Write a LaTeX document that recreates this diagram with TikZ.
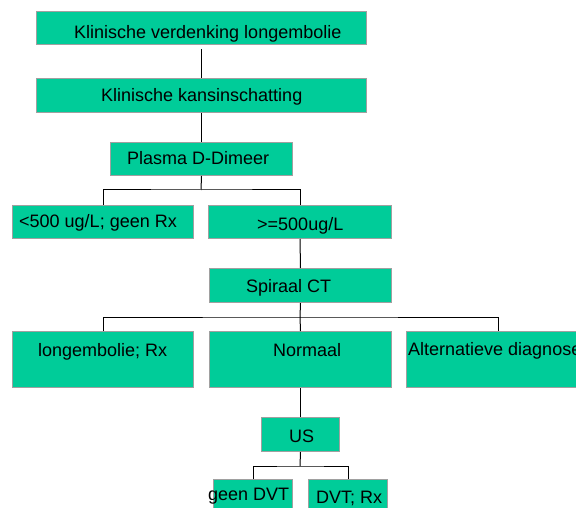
\documentclass[tikz,border=0pt]{standalone}
\usepackage{fontspec}
\setmainfont{Liberation Sans}
\definecolor{boxfill}{HTML}{00CC99}
\definecolor{boxline}{HTML}{A0A0A0}
\begin{document}
\begin{tikzpicture}[x=1pt,y=-1pt,
  box/.style={draw=boxline,line width=1pt,fill=boxfill,rectangle,inner sep=0pt,anchor=north west},
  lbl/.style={inner sep=0pt,font=\fontsize{18}{21}\selectfont,anchor=base west},
  conn/.style={draw=black,line width=1pt}]
\useasboundingbox (0,0) rectangle (576,508);
\clip (0,0) rectangle (576,508);
% boxes
\node[box,minimum width=330pt,minimum height=33pt] (b1) at (36,11) {};
\node[box,minimum width=330pt,minimum height=34pt] (b2) at (36,78) {};
\node[box,minimum width=182pt,minimum height=33pt] (b3) at (110,142) {};
\node[box,minimum width=181pt,minimum height=33pt] (b4) at (12,205) {};
\node[box,minimum width=183pt,minimum height=33pt] (b5) at (208,205) {};
\node[box,minimum width=182pt,minimum height=34pt] (b6) at (209,268) {};
\node[box,minimum width=181pt,minimum height=56pt] (b7) at (12,331) {};
\node[box,minimum width=182pt,minimum height=56pt] (b8) at (209,331) {};
\node[box,minimum width=300pt,minimum height=56pt] (b9) at (406,331) {};
\node[box,minimum width=78pt,minimum height=34pt] (b10) at (261,417) {};
\node[box,minimum width=79pt,minimum height=40pt] (b11) at (213,479) {};
\node[box,minimum width=79pt,minimum height=40pt] (b12) at (308,479) {};
% labels
\node[lbl] (t1) at (74,39) {Klinische verdenking longembolie};
\node[lbl] (t2) at (101,102) {Klinische kansinschatting};
\node[lbl] (t3) at (127,165) {Plasma D-Dimeer};
\node[lbl] (t4) at (19,227) {<500 ug/L; geen Rx};
\node[lbl] (t5) at (257,230) {>=500ug/L};
\node[lbl] (t6) at (246,292) {Spiraal CT};
\node[lbl] (t7) at (38,356) {longembolie; Rx};
\node[lbl] (t8) at (273,356) {Normaal};
\node[lbl] (t9) at (408,355) {Alternatieve diagnose};
\node[lbl] (t10) at (289,442) {US};
\node[lbl] (t11) at (208,500) {geen DVT};
\node[lbl] (t12) at (316,503) {DVT; Rx};
% connectors
\coordinate (j1) at (201,190);
\coordinate (j2) at (300,317);
\coordinate (c9) at (498,331);
\coordinate (j3) at (300,466);
\draw[conn] ([yshift=-4pt]b1.south) -- (b2.north);
\draw[conn] (b2.south) -- (b3.north);
\draw[conn] (b3.south) -- (j1);
\draw[conn] (b4.north) |- (j1) -| (b5.north);
\draw[conn] (b5.south) -- (b6.north);
\draw[conn] (b6.south) -- (j2);
\draw[conn] (b7.north) |- (j2) -| (c9);
\draw[conn] (j2) -- (b8.north);
\draw[conn] (b8.south) -- (b10.north);
\draw[conn] (b10.south) -- (j3);
\draw[conn] (b11.north) |- (j3) -| (b12.north);
\end{tikzpicture}
\end{document}
